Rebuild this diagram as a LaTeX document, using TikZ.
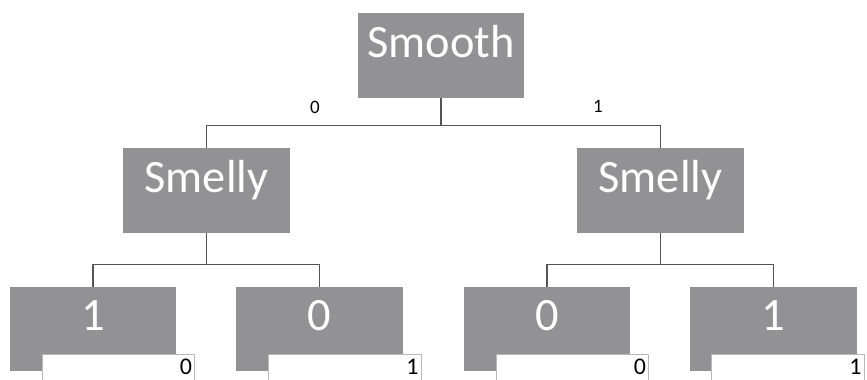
\documentclass[tikz,border=0pt]{standalone}
\usepackage{fontspec}
\setmainfont{Carlito}
\usetikzlibrary{calc}

\definecolor{boxgray}{RGB}{146,146,149}
\definecolor{edgegray}{RGB}{85,85,85}

\begin{document}
\begin{tikzpicture}[x=0.025cm, y=-0.025cm,
    splitbox/.style={fill=boxgray, text=white, minimum width=4.15cm, minimum height=2.1cm,
      inner sep=0pt, font=\fontsize{33}{36}\selectfont, text height=0.7em, text depth=0.42em},
    tagbox/.style={fill=white, draw=gray!55, line width=0.6pt, anchor=north east,
      text width=3.68cm, align=right, inner xsep=2pt, inner ysep=0pt, minimum height=1cm,
      font=\fontsize{17}{19}\selectfont, text height=0.7em, text depth=0.8em},
    edge/.style={draw=edgegray, line width=1pt},
    branchlbl/.style={font=\fontsize{13.5}{15}\selectfont}]
  \useasboundingbox (0,0) rectangle (867,380);
  % root
  \node[splitbox] (smooth) at (441,55.5) {Smooth};
  \node[branchlbl] (lblZero) at (315,107) {0};
  \node[branchlbl] (lblOne) at (598,106) {1};
  % second level
  \node[splitbox] (smellyL) at (206.5,190.5) {Smelly};
  \node[splitbox] (smellyR) at (660.5,190.5) {Smelly};
  \coordinate (jTop) at ($(smooth.south)+(0,28)$);
  \draw[edge] (smooth.south) -- (jTop) -| (smellyL.north);
  \draw[edge] (jTop) -| (smellyR.north);
  % leaves
  \node[splitbox] (leafA) at (93,329) {1};
  \node[splitbox] (leafB) at (319.5,329) {0};
  \node[splitbox] (leafC) at (547,329) {0};
  \node[splitbox] (leafD) at (773.5,329) {1};
  \coordinate (jL) at ($(smellyL.south)+(0,32)$);
  \coordinate (jR) at ($(smellyR.south)+(0,32)$);
  \draw[edge] (smellyL.south) -- (jL) -| (leafA.north);
  \draw[edge] (jL) -| (leafB.north);
  \draw[edge] (smellyR.south) -- (jR) -| (leafC.north);
  \draw[edge] (jR) -| (leafD.north);
  % counts under the leaves
  \node[tagbox] (tagA) at ($(leafA.south east)+(19,-17)$) {0};
  \node[tagbox] (tagB) at ($(leafB.south east)+(19,-17)$) {1};
  \node[tagbox] (tagC) at ($(leafC.south east)+(19,-17)$) {0};
  \node[tagbox] (tagD) at ($(leafD.south east)+(8,-17)$) {1};
\end{tikzpicture}
\end{document}
